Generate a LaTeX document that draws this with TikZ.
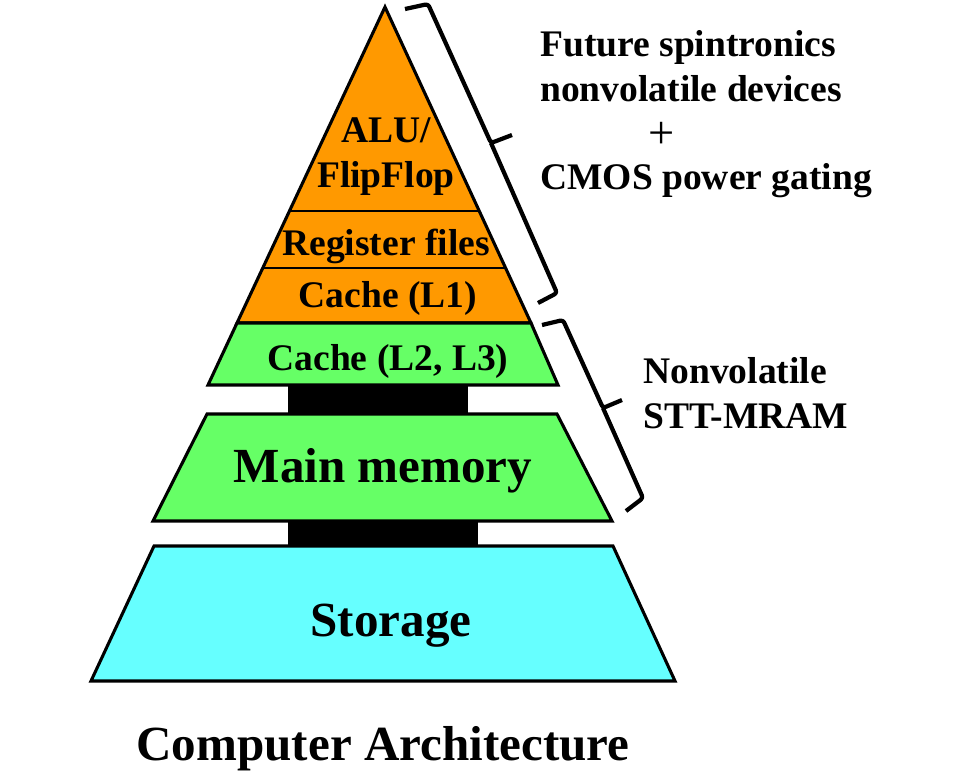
\documentclass[tikz,border=0pt]{standalone}
\usepackage{xcolor}
\usepackage{fontspec}
\setmainfont{Liberation Serif}
\usepackage{tikz}

\definecolor{layerorange}{RGB}{255,153,0}
\definecolor{layergreen}{RGB}{102,255,102}
\definecolor{layercyan}{RGB}{102,255,255}

\begin{document}
\begin{tikzpicture}[x=0.025cm,y=-0.025cm,
    layer/.style={draw=black,line width=2.2pt,line join=miter},
    lbl/.style={inner sep=0pt,font=\bfseries\fontsize{26.7}{32}\selectfont},
    biglbl/.style={inner sep=0pt,font=\bfseries\fontsize{34.9}{40}\selectfont},
    bracket/.style={line width=3pt,line join=round,rounded corners=2pt}]
    \useasboundingbox (0,0) rectangle (960,771);
    \fill[white] (0,0) rectangle (960,771);
    % links between the levels
    \fill[black] (288,383) rectangle (468,416);
    \fill[black] (288,519) rectangle (478,548);
    % top of the pyramid
    \coordinate (apex) at (385,7);
    \coordinate (bl) at (237,323);
    \coordinate (br) at (531,323);
    \fill[layerorange] (apex) -- (br) -- (bl) -- cycle;
    \begin{scope}
        \clip (apex) -- (br) -- (bl) -- cycle;
        \draw[line width=2pt] (200,211) -- (600,211);
        \draw[line width=2pt] (200,268) -- (600,268);
    \end{scope}
    \draw[layer] (apex) -- (br) -- (bl) -- cycle;
    \filldraw[layer,fill=layergreen] (bl) -- (br) -- (558,385) -- (208,385) -- cycle;
    \filldraw[layer,fill=layergreen] (207,414) -- (557,414) -- (612,521) -- (153,521) -- cycle;
    \filldraw[layer,fill=layercyan] (154,546) -- (613,546) -- (675,681) -- (91,681) -- cycle;
    % labels in the layers
    \node[lbl,anchor=base] (alu) at (386,142) {ALU/};
    \node[lbl,anchor=base] (flip) at (386,187) {FlipFlop};
    \node[lbl,anchor=base] (reg) at (386,255) {Register files};
    \node[lbl,anchor=base] (lone) at (388,307) {Cache (L1)};
    \node[lbl,anchor=base] (ltwo) at (388,370) {Cache (L2, L3)};
    \node[biglbl,anchor=base] (mainmem) at (383,482) {Main memory};
    \node[biglbl,anchor=base] (storage) at (391,636) {Storage};
    \node[biglbl,anchor=base] (arch) at (383,760) {Computer Architecture};
    % braces
    \coordinate (ba) at (405,9);
    \coordinate (bb) at (428,4);
    \coordinate (bm) at (491,143);
    \coordinate (bt) at (512,135);
    \coordinate (bc) at (557,293);
    \coordinate (bd) at (538,303);
    \draw[bracket] (ba) -- (bb) -- (bm) -- (bt) (bm) -- (bc) -- (bd);
    \coordinate (ca) at (542,325);
    \coordinate (cb) at (563,320);
    \coordinate (cm) at (603,408);
    \coordinate (ct) at (622,400);
    \coordinate (cc) at (643,498);
    \coordinate (cd) at (626,511);
    \draw[bracket] (ca) -- (cb) -- (cm) -- (ct) (cm) -- (cc) -- (cd);
    % side notes
    \node[lbl,anchor=base west] (fut1) at (540,56) {Future spintronics};
    \node[lbl,anchor=base west] (fut2) at (540,101) {nonvolatile devices};
    \node[inner sep=0pt,font=\fontsize{33}{36}\selectfont] (plus) at (662,135) {+};
    \node[lbl,anchor=base west] (fut3) at (540,189) {CMOS power gating};
    \node[lbl,anchor=base west] (nv1) at (643,383) {Nonvolatile};
    \node[lbl,anchor=base west] (nv2) at (643,428) {STT-MRAM};
\end{tikzpicture}
\end{document}
